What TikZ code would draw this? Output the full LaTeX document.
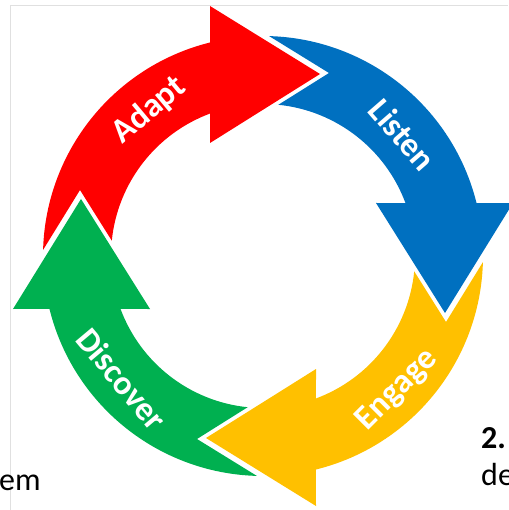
\documentclass[tikz,border=0pt]{standalone}
\usepackage{fontspec}
\setmainfont{Carlito}

\definecolor{adaptred}{HTML}{FF0000}
\definecolor{listenblue}{HTML}{0070C0}
\definecolor{engageyellow}{HTML}{FFC000}
\definecolor{discovergreen}{HTML}{00B050}
\definecolor{framegrey}{HTML}{E0E0E0}

\begin{document}
\begin{tikzpicture}[x=1pt, y=1pt,
  arrowlabel/.style={text=white, font=\bfseries\fontsize{34}{40}\selectfont, inner sep=0pt},
  pagetext/.style={font=\fontsize{32}{38}\selectfont, inner sep=0pt, anchor=base west},
  pagebold/.style={pagetext, font=\bfseries\fontsize{32}{38}\selectfont},
  cyclearrow/.pic={\fill[#1] (178.4:220pt) arc[start angle=178.4, end angle=103.9, radius=220pt]
    -- (-53,250) -- (57,182) -- (-53,113) -- (110.4:152pt)
    arc[start angle=110.4, end angle=174.2, radius=152pt] -- (-183,66) -- cycle;}]
\useasboundingbox (0,0) rectangle (508,-510);
\coordinate (centre) at (263,-256);
% page frame and text around the picture
\draw[framegrey, line width=1pt] (10.5,-510) -- (10.5,-5.5) -- (508,-5.5);
\node[pagetext] (em) at (-1,-490) {em};
\node[pagebold] (two) at (481,-448) {2.};
\node[pagetext] (de) at (481,-485) {de};
% the four arrows of the cycle
\pic[rotate=0] at (centre) {cyclearrow=adaptred};
\pic[rotate=-90] at (centre) {cyclearrow=listenblue};
\pic[rotate=-180] at (centre) {cyclearrow=engageyellow};
\pic[rotate=-270] at (centre) {cyclearrow=discovergreen};
\node[arrowlabel, rotate=40] (adapt) at ([shift={(128:185pt)}]centre) {Adapt};
\node[arrowlabel, rotate=-49] (listen) at ([shift={(41:185pt)}]centre) {Listen};
\node[arrowlabel, rotate=45] (engage) at ([shift={(-45:190pt)}]centre) {Engage};
\node[arrowlabel, rotate=-50] (discover) at ([shift={(221:187pt)}]centre) {Discover};
\end{tikzpicture}
\end{document}
